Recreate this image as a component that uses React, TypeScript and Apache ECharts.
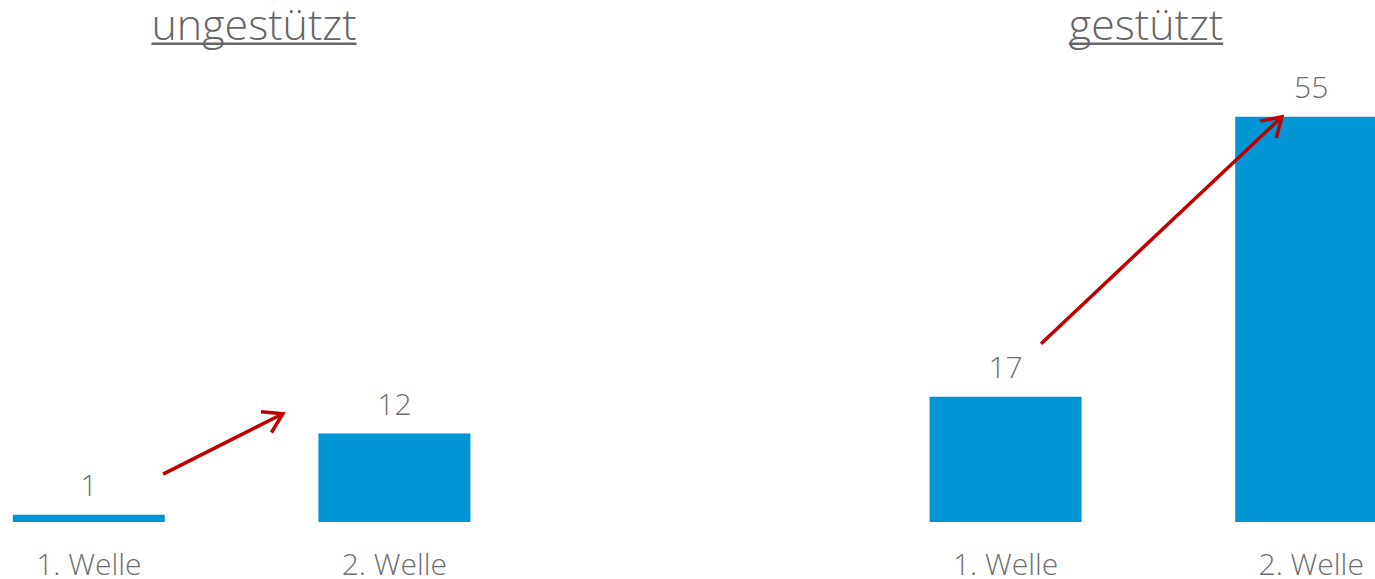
import React, { useEffect, useRef } from "react";
import * as echarts from "echarts";

// ---- data ----
const categories: string[] = ["1. Welle", "2. Welle", "", "1. Welle", "2. Welle"];
const values: (number | null)[] = [1, 12, null, 17, 55];
const groupTitles: string[] = ["ungestützt", "gestützt"];
// arrows in data coordinates: [category position, value]
const arrowStarts: number[][] = [[0.243, 6.5], [3.116, 24.2]];
const arrowEnds: number[][] = [[0.635, 14.7], [3.904, 55.0]];

const FONT = "'Open Sans', 'Noto Sans', sans-serif";
const TEXT_COLOR = "#6e6e6e";
const TITLE_COLOR = "#666666";
const BAR_COLOR = "#0096d6";
const ARROW_COLOR = "#c00000";
const TITLE_SIZE = 43;
const OFFSET = 64; // chart canvas starts 64px left of the visible window
const TITLE_CENTERS = [254 + OFFSET, 1146 + OFFSET];

function measure(text: string, size: number): number {
  const c = document.createElement("canvas").getContext("2d");
  if (!c) return text.length * size * 0.5;
  c.font = `300 ${size}px 'Open Sans'`;
  return c.measureText(text).width;
}

export default function App() {
  const ref = useRef<HTMLDivElement>(null);
  useEffect(() => {
    if (!ref.current) return;
    const chart = echarts.init(ref.current, undefined, { renderer: "svg" });
    chart.setOption({
      animation: false,
      backgroundColor: "#ffffff",
      grid: { left: 0, right: 0, top: 80, bottom: 57, containLabel: false },
      xAxis: [
        {
          type: "category",
          data: categories,
          axisLine: { show: false },
          axisTick: { show: false },
          axisLabel: {
            interval: 0,
            margin: 28,
            fontSize: 30,
            lineHeight: 26,
            fontWeight: 300,
            fontFamily: FONT,
            color: TEXT_COLOR,
          },
        },
        { type: "value", min: -0.5, max: 4.5, show: false },
      ],
      yAxis: {
        type: "value",
        min: 0,
        max: 60,
        show: false,
        splitLine: { show: false },
      },
      series: [
        {
          type: "bar",
          data: values,
          xAxisIndex: 0,
          barWidth: 152,
          itemStyle: { color: BAR_COLOR },
          label: {
            show: true,
            position: "top",
            distance: 15,
            fontSize: 30,
            fontWeight: 300,
            fontFamily: FONT,
            color: TEXT_COLOR,
          },
        },
      ],
    });

    const graphics: any[] = [];
    groupTitles.forEach((t, i) => {
      const cx = TITLE_CENTERS[i];
      const w = measure(t, TITLE_SIZE);
      graphics.push({
        type: "text",
        x: cx,
        y: 23,
        z: 100,
        style: {
          text: t,
          fontSize: TITLE_SIZE,
          lineHeight: 40,
          fontWeight: 300,
          fontFamily: FONT,
          fill: TITLE_COLOR,
          align: "center",
          verticalAlign: "middle",
        },
      });
      graphics.push({
        type: "line",
        z: 100,
        shape: { x1: cx - w / 2, y1: 43.7, x2: cx + w / 2, y2: 43.7 },
        style: { stroke: TITLE_COLOR, lineWidth: 2.5 },
      });
    });

    arrowStarts.forEach((s, i) => {
      const p1 = chart.convertToPixel({ xAxisIndex: 1, yAxisIndex: 0 }, s) as number[];
      const p2 = chart.convertToPixel({ xAxisIndex: 1, yAxisIndex: 0 }, arrowEnds[i]) as number[];
      const ang = Math.atan2(p2[1] - p1[1], p2[0] - p1[0]);
      const len = 22;
      const spread = (32 * Math.PI) / 180;
      const a1 = [p2[0] - len * Math.cos(ang - spread), p2[1] - len * Math.sin(ang - spread)];
      const a2 = [p2[0] - len * Math.cos(ang + spread), p2[1] - len * Math.sin(ang + spread)];
      graphics.push({
        type: "line",
        z: 100,
        shape: { x1: p1[0], y1: p1[1], x2: p2[0], y2: p2[1] },
        style: { stroke: ARROW_COLOR, lineWidth: 3.5, lineCap: "butt" },
      });
      graphics.push({
        type: "polyline",
        z: 100,
        shape: { points: [a1, p2, a2] },
        style: { stroke: ARROW_COLOR, lineWidth: 3.5, fill: null, lineJoin: "miter" },
      });
    });

    chart.setOption({ graphic: graphics });
    return () => chart.dispose();
  }, []);
  return (
    <div
      style={{
        position: "absolute",
        left: 0,
        top: 0,
        width: 1375,
        height: 579,
        overflow: "hidden",
        background: "#ffffff",
      }}
    >
      <div
        ref={ref}
        style={{ position: "absolute", left: -OFFSET, top: 0, width: 1528, height: 579 }}
      />
    </div>
  );
}
